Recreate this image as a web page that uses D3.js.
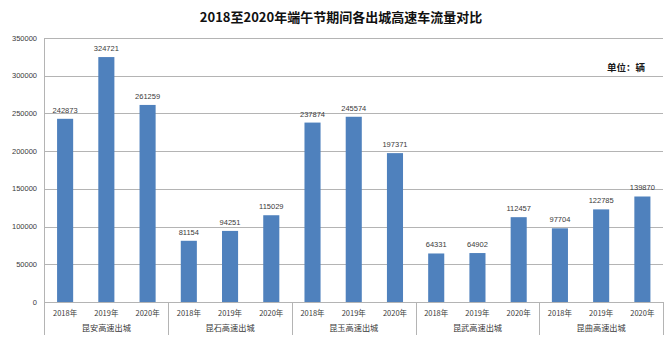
<!DOCTYPE html>
<html><head><meta charset="utf-8">
<script src="https://cdn.jsdelivr.net/npm/d3@7"></script>
<style>
html,body{margin:0;padding:0;background:#fff;}
svg{display:block;}
</style></head>
<body><svg id="c" width="670" height="347"></svg>
<script>
const title = "2018至2020年端午节期间各出城高速车流量对比";
const unitLabel = "单位：辆";
const groups = ["昆安高速出城","昆石高速出城","昆玉高速出城","昆武高速出城","昆曲高速出城"];
const years = ["2018年","2019年","2020年"];
const values2018 = [242873, 81154, 237874, 64331, 97704];
const values2019 = [324721, 94251, 245574, 64902, 122785];
const values2020 = [261259, 115029, 197371, 112457, 139870];
const yTicks = [0,50000,100000,150000,200000,250000,300000,350000];

const series = [values2018, values2019, values2020];
const data = [];
groups.forEach((g,gi)=>{
  years.forEach((yr,yi)=>{
    data.push({group:g, year:yr, value:series[yi][gi]});
  });
});

const svg = d3.select("#c");
const mLeft = 44.5, mRight = 663, mTop = 38, mBottom = 302, catBottom = 335;
const numFont = "'Liberation Sans', Arial, sans-serif";
const cjkFont = "'Noto Sans CJK SC', sans-serif";
const textColor = "#3a3a3a";

const y = d3.scaleLinear().domain([0,350000]).range([mBottom, mTop]);
const xg = d3.scaleBand().domain(groups).range([mLeft, mRight]).padding(0);
const xy = d3.scaleBand().domain(years).range([0, xg.bandwidth()]).paddingInner(0.61).paddingOuter(0.305);

// gridlines
svg.append("g").selectAll("line").data(yTicks).join("line")
  .attr("x1", mLeft).attr("x2", mRight)
  .attr("y1", d=>Math.round(y(d))+0.5).attr("y2", d=>Math.round(y(d))+0.5)
  .attr("stroke", "#b4b4b4").attr("stroke-width", 1);

// y axis labels
svg.append("g").selectAll("text").data(yTicks).join("text")
  .attr("x", 37).attr("y", d=>y(d)).attr("dy","0.35em")
  .attr("text-anchor","end")
  .attr("font-family", numFont).attr("font-size", 7.5).attr("fill", textColor)
  .text(d=>d);

// left axis line
svg.append("line").attr("x1", mLeft).attr("x2", mLeft).attr("y1", mTop).attr("y2", catBottom)
  .attr("stroke", "#b4b4b4");

// group separators
const seps = groups.map(g=>xg(g)).concat([mRight]);
svg.append("g").selectAll("line").data(seps.slice(1)).join("line")
  .attr("x1", d=>Math.round(d)+0.5).attr("x2", d=>Math.round(d)+0.5)
  .attr("y1", mBottom).attr("y2", catBottom)
  .attr("stroke", "#b4b4b4");

// bars
svg.append("g").selectAll("rect").data(data).join("rect")
  .attr("x", d=>xg(d.group)+xy(d.year))
  .attr("width", xy.bandwidth())
  .attr("y", d=>y(d.value))
  .attr("height", d=>y(0)-y(d.value))
  .attr("fill", "#4f81bd");

// value labels
svg.append("g").selectAll("text").data(data).join("text")
  .attr("x", d=>xg(d.group)+xy(d.year)+xy.bandwidth()/2)
  .attr("y", d=>y(d.value)-6)
  .attr("text-anchor","middle")
  .attr("font-family", numFont).attr("font-size", 7.5).attr("fill", textColor)
  .text(d=>d.value);

// year labels
svg.append("g").selectAll("text").data(data).join("text")
  .attr("x", d=>xg(d.group)+xy(d.year)+xy.bandwidth()/2)
  .attr("y", 313).attr("dy","0.35em")
  .attr("text-anchor","middle")
  .attr("font-family", cjkFont).attr("font-size", 7.5).attr("fill", textColor)
  .text(d=>d.year);

// group labels
svg.append("g").selectAll("text").data(groups).join("text")
  .attr("x", d=>xg(d)+xg.bandwidth()/2)
  .attr("y", 328).attr("dy","0.35em")
  .attr("text-anchor","middle")
  .attr("font-family", cjkFont).attr("font-size", 8.2).attr("fill", textColor)
  .text(d=>d);

// title
svg.append("text").attr("x", 341).attr("y", 17.5).attr("dy","0.35em")
  .attr("text-anchor","middle")
  .attr("font-family", cjkFont).attr("font-size", 13).attr("font-weight","bold")
  .attr("fill", "#111").text(title);

// unit
svg.append("text").attr("x", 626).attr("y", 68).attr("dy","0.35em")
  .attr("text-anchor","middle")
  .attr("font-family", cjkFont).attr("font-size", 9.5).attr("font-weight","bold")
  .attr("fill", "#1a1a1a").text(unitLabel);
</script>
</body></html>
